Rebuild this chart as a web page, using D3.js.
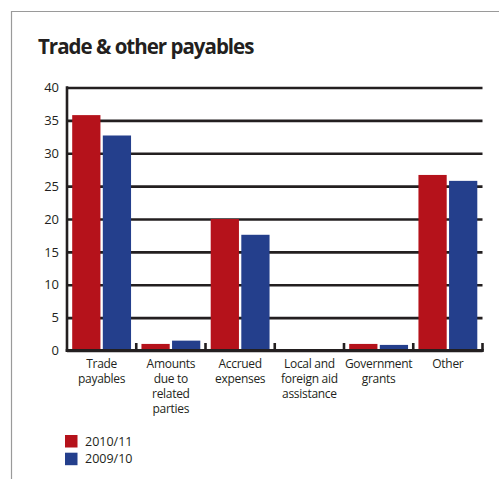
<!DOCTYPE html>
<html><head><meta charset="utf-8">
<script src="https://cdn.jsdelivr.net/npm/d3@7"></script>
<style>
html,body{margin:0;padding:0;background:#fff;}
svg{display:block;}
text{font-family:"Open Sans",sans-serif;fill:#231f20;}
</style></head>
<body><svg id="c" width="499" height="479"></svg>
<script>
const title = "Trade & other payables";
const categories = ["Trade payables","Amounts due to related parties","Accrued expenses","Local and foreign aid assistance","Government grants","Other"];
const categoryLines = [["Trade","payables"],["Amounts","due to","related","parties"],["Accrued","expenses"],["Local and","foreign aid","assistance"],["Government","grants"],["Other"]];
const seriesNames = ["2010/11","2009/10"];
const values2010_11 = [35.8, 1.0, 20.0, 0, 1.0, 26.7];
const values2009_10 = [32.7, 1.5, 17.6, 0, 0.85, 25.8];
const yTicks = [0,5,10,15,20,25,30,35,40];
const colors = ["#b5121b","#243f8c"];

const svg = d3.select("#c");
const M = {left:67, right:482.5, top:87.5, bottom:350.5};

// frame
svg.append("path").attr("d","M11.5,479 V11.5 H499").attr("fill","none").attr("stroke","#9a9a9a").attr("stroke-width",1.2);

svg.append("text").attr("x",38).attr("y",54).attr("font-size",20.5).attr("font-weight",700)
  .attr("letter-spacing",-1).text(title);

const x = d3.scaleBand().domain(categories).range([M.left, M.right]).paddingInner(0).paddingOuter(0);
const y = d3.scaleLinear().domain([0,40]).range([M.bottom, M.top]);

// gridlines + y labels
const ya = svg.append("g").attr("transform",`translate(${M.left},0)`)
  .call(d3.axisLeft(y).tickValues(yTicks).tickSize(-(M.right-M.left)).tickPadding(8).tickFormat(d3.format("d")));
ya.select(".domain").remove();
ya.selectAll(".tick line").attr("stroke","#231f20").attr("stroke-width",2.6);
ya.selectAll(".tick text").attr("font-size",13).attr("font-family","'Open Sans',sans-serif").attr("fill","#231f20");

// bars
const x1 = d3.scaleBand().domain(seriesNames).range([0, x.bandwidth()]).paddingInner(0.077).paddingOuter(0.17);
const series = [values2010_11, values2009_10];
series.forEach((vals,si)=>{
  svg.append("g").selectAll("rect").data(vals).join("rect")
    .attr("x",(d,i)=>x(categories[i])+x1(seriesNames[si]))
    .attr("width",x1.bandwidth())
    .attr("y",d=>y(d))
    .attr("height",d=>y(0)-y(d))
    .attr("fill",colors[si]);
});

// axes lines
svg.append("line").attr("x1",M.left).attr("x2",M.left).attr("y1",M.top-1.3).attr("y2",M.bottom+1.3).attr("stroke","#231f20").attr("stroke-width",2.6);
svg.append("line").attr("x1",M.left-1.3).attr("x2",M.right+1.3).attr("y1",M.bottom).attr("y2",M.bottom).attr("stroke","#231f20").attr("stroke-width",2.8);
// category ticks (upward)
const bounds = categories.map(c=>x(c)).slice(1).concat([M.right]);
svg.append("g").selectAll("line").data(bounds).join("line")
  .attr("x1",d=>d).attr("x2",d=>d).attr("y1",M.bottom-7.5).attr("y2",M.bottom)
  .attr("stroke","#231f20").attr("stroke-width",2.6);

// category labels (one text per line)
const lineData = [];
categories.forEach((c,i)=>categoryLines[i].forEach((t,j)=>lineData.push({c,t,j})));
svg.append("g").selectAll("text").data(lineData).join("text")
  .attr("x",d=>x(d.c)+x.bandwidth()/2).attr("y",d=>368+d.j*15).attr("text-anchor","middle")
  .attr("font-size",12).attr("letter-spacing",-0.3).text(d=>d.t);

// legend
const lg = svg.append("g");
seriesNames.forEach((s,i)=>{
  lg.append("rect").attr("x",65).attr("y",435+i*17.7).attr("width",12.5).attr("height",12.5).attr("fill",colors[i]);
  lg.append("text").attr("x",85).attr("y",446+i*17.3).attr("font-size",12.5).text(s);
});
</script></body></html>
